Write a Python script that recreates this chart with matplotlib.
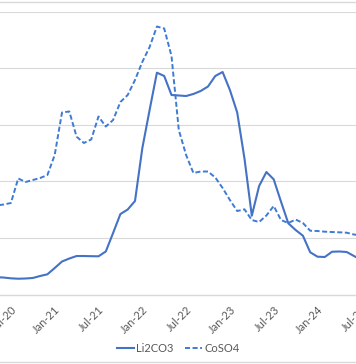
import matplotlib
matplotlib.use("Agg")
import matplotlib.pyplot as plt
from matplotlib.lines import Line2D

plt.rcParams['font.family'] = ['Lato', 'DejaVu Sans']

# monthly data, May-20 .. Jul-24 (index 0 = Jan-21)
months = list(range(-8, 43))

li2co3 = [30.6, 30.0, 28.6, 27.9, 28.3, 29.2, 32.7, 35.7,
          46.8, 58.3, 63.6, 68.0, 68.0, 67.7, 67.5, 76.0, 108.7, 142.2, 150.2, 165.2,
          258.3, 326.0, 391.9, 386.1, 352.5, 351.6, 350.7, 354.3, 359.6, 367.5, 386.1, 393.1,
          361.3, 321.6, 239.9, 139.2, 191.7, 216.4, 203.5, 164.0, 125.8, 114.0, 103.9, 74.6,
          66.8, 66.3, 75.6, 76.0, 75.1, 68.0, 61.0]

coso4 = [157.3, 159.0, 161.7, 205.0, 198.8, 202.3, 205.8, 211.1,
         246.5, 321.6, 323.4, 278.8, 267.7, 273.9, 314.5, 296.8, 308.3, 340.1, 352.5, 379.0,
         410.8, 437.3, 473.5, 470.0, 421.4, 290.7, 246.5, 214.7, 217.3, 217.3, 206.7, 188.2,
         167.0, 147.5, 150.5, 131.6, 128.1, 139.6, 156.4, 131.6, 126.3, 132.5, 126.3, 112.7,
         112.2, 111.0, 110.4, 109.9, 109.2, 106.0, 104.2]

tick_pos = [-6, 0, 6, 12, 18, 24, 30, 36, 42]
tick_labels = ['Jul-20', 'Jan-21', 'Jul-21', 'Jan-22', 'Jul-22',
               'Jan-23', 'Jul-23', 'Jan-24', 'Jul-24']

fig = plt.figure(figsize=(3.56, 3.64), dpi=100)
# axes wider than the figure: the picture is a crop of a bigger chart
ax = fig.add_axes([-0.0309, 0.1909, 1.0663, 0.7775])

ax.plot(months, li2co3, color='#4472C4', lw=1.5, label='Li2CO3')
ax.plot(months, coso4, color='#3F7BD3', lw=1.4, dashes=(2.6, 1.3), label='CoSO4')

ax.set_xlim(-9, 43)
ax.set_ylim(0, 500)
ax.set_yticks([0, 100, 200, 300, 400, 500])
ax.grid(axis='y', color='#D9D9D9', lw=0.8)
ax.set_axisbelow(True)

ax.set_xticks(tick_pos)
ax.set_xticklabels(tick_labels, rotation=45, ha='right', rotation_mode='anchor',
                   fontsize=8, color='#595959')
ax.tick_params(axis='x', length=0, pad=7)
ax.tick_params(axis='y', left=False, labelleft=False)

for s in ['top', 'left', 'right']:
    ax.spines[s].set_visible(False)
ax.spines['bottom'].set_color('#D9D9D9')
ax.spines['bottom'].set_linewidth(1.0)

fig.legend(loc='center', bbox_to_anchor=(0.5, 0.043), ncol=2, frameon=False,
           fontsize=8, handlelength=1.6, handletextpad=0.15, columnspacing=1.0,
           labelcolor='#595959')

# chart area border (top and bottom visible in the crop)
fig.add_artist(Line2D([0, 1], [0.9953, 0.9953], transform=fig.transFigure,
                      color='#D9D9D9', lw=1))
fig.add_artist(Line2D([0, 1], [0.0063, 0.0063], transform=fig.transFigure,
                      color='#D9D9D9', lw=1))

fig.savefig('out.png', dpi=100)
